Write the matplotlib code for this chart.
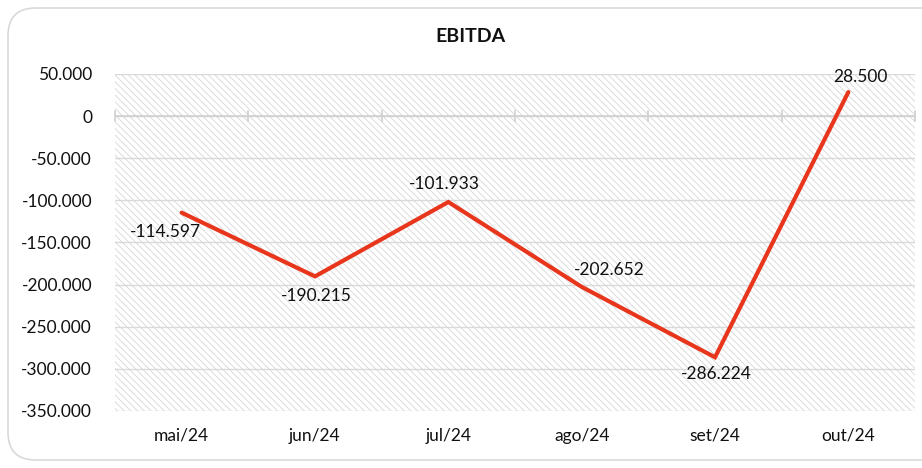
import matplotlib
matplotlib.use("Agg")
import matplotlib.pyplot as plt
from matplotlib.patches import FancyBboxPatch, Rectangle
from matplotlib.ticker import FuncFormatter, MultipleLocator

categories = ["mai/24", "jun/24", "jul/24", "ago/24", "set/24", "out/24"]
ebitda = [-114597, -190215, -101933, -202652, -286224, 28500]
title = "EBITDA"

# label offsets (pixels) relative to each point
label_offsets = [(-16, -19), (1, -20), (-4, 18), (28, 17), (1, -17), (12, 15)]

plt.rcParams['font.family'] = ['Lato', 'DejaVu Sans']
plt.rcParams['hatch.linewidth'] = 0.6

FS = 12.5

fig = plt.figure(figsize=(9.22, 4.68), dpi=100)
fig.patch.set_facecolor("white")

# rounded chart border
border = FancyBboxPatch((8/922, 8/468), 1.2, 452/468,
                        boxstyle="round,pad=0,rounding_size=0.03",
                        transform=fig.transFigure, facecolor="none",
                        edgecolor="#d9d9d9", linewidth=1.2, mutation_aspect=922/468,
                        zorder=-5)
fig.patches.append(border)

ax = fig.add_axes([115/922, 1 - 411/468, 800/922, 337/468])
ax.set_facecolor("none")
n = len(categories)
ax.set_xlim(-0.5, n - 0.5)
ax.set_ylim(-350000, 50000)

# hatched background
bg = Rectangle((0, 0), 1, 1, transform=ax.transAxes, facecolor="white",
               edgecolor="#d6d6d6", linewidth=0, hatch="\\\\\\\\\\", zorder=0)
ax.add_patch(bg)

for s in ax.spines.values():
    s.set_visible(False)

ax.yaxis.set_major_locator(MultipleLocator(50000))
ax.yaxis.set_major_formatter(FuncFormatter(lambda v, p: f"{int(v):,}".replace(",", ".")))
ax.grid(axis="y", color="#d9d9d9", linewidth=1.0, zorder=1)
ax.set_axisbelow(True)
ax.tick_params(axis="y", length=0, labelsize=FS, pad=16.5, colors="#111111")
ax.set_xticks(range(n))
ax.set_xticklabels(categories)
ax.tick_params(axis="x", length=0, labelsize=FS, pad=12, colors="#111111")

# zero axis with category boundary ticks
ax.axhline(0, color="#d0d0d0", linewidth=1.2, zorder=2)
for b in range(n + 1):
    ax.plot([b - 0.5, b - 0.5], [-6000, 6000], color="#d0d0d0", linewidth=1.2, zorder=2,
            clip_on=False)

ax.plot(range(n), ebitda, color="#E8361C", linewidth=3.0, zorder=3,
        solid_capstyle="round", solid_joinstyle="miter")

fmt = lambda v: f"{v:,}".replace(",", ".")
for i, (v, off) in enumerate(zip(ebitda, label_offsets)):
    ax.annotate(fmt(v), (i, v), xytext=off, textcoords="offset pixels",
                ha="center", va="center", fontsize=FS, color="#111111", zorder=4)

fig.text(470/922, 1 - 36.5/468, title, ha="center", va="center",
         fontsize=14, fontweight="bold", color="#111111")

fig.savefig("out.png", dpi=100)
